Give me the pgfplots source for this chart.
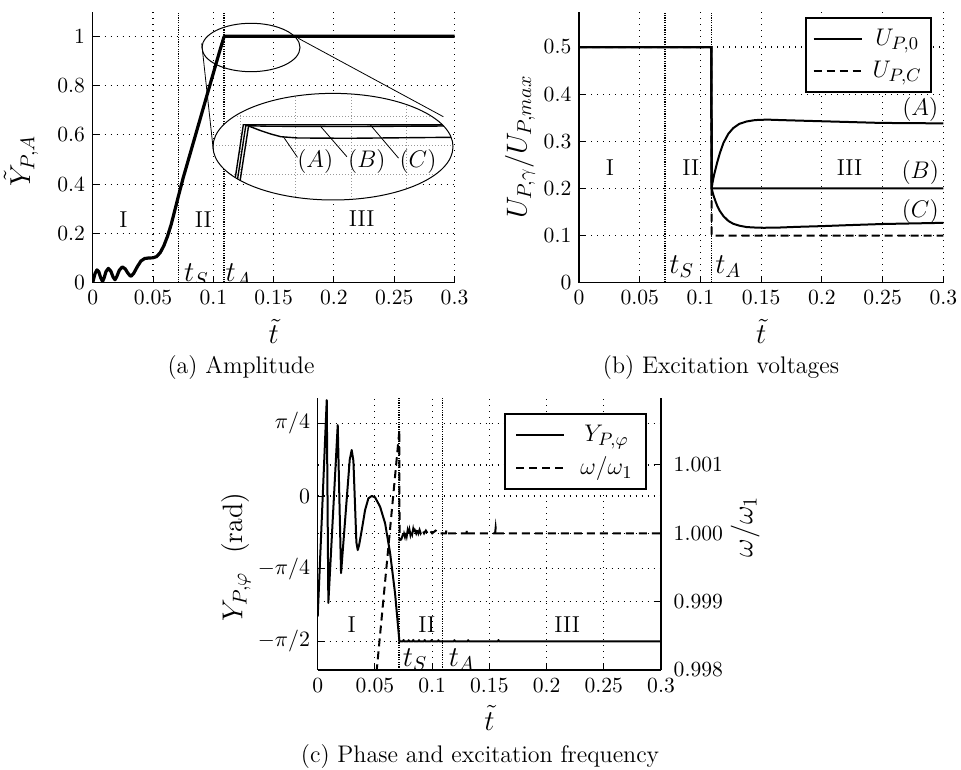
\documentclass[border=0pt,11pt]{standalone}
\usepackage{pgfplots}
\pgfplotsset{compat=1.18}

\newcommand{\tickfont}{\fontsize{10.8}{12}\selectfont}
\newcommand{\labfont}{\fontsize{14}{16}\selectfont}
\newcommand{\legfont}{\fontsize{12.5}{14}\selectfont}
\newcommand{\txtfont}{\fontsize{11.5}{13}\selectfont}

\pgfplotsset{
  panel/.style={
    scale only axis, anchor=south west,
    xmin=0, xmax=0.3, enlargelimits=false,
    xtick={0,0.05,0.1,0.15,0.2,0.25,0.3},
    xticklabels={0,0.05,0.1,0.15,0.2,0.25,0.3},
    xlabel={$\tilde{t}$},
    axis x line*=bottom, axis y line*=left,
    axis line style={-, line width=0.7pt},
    tick align=inside, major tick length=3pt,
    tick style={black, line width=0.5pt},
    tick label style={font=\tickfont},
    label style={font=\labfont, inner sep=0pt},
    xmajorgrids, ymajorgrids,
    grid style={black, line width=0.55pt, dash pattern=on 0.55pt off 2.45pt},
    legend image code/.code={\draw[##1] (0pt,0pt) -- (24pt,0pt);},
  },
  boundary/.style={black, line width=0.8pt, dash pattern=on 0.6pt off 0.6pt},
  curve/.style={black, line width=1pt, solid},
  dcurve/.style={black, line width=1pt, dash pattern=on 4pt off 2.5pt},
  boxlegend/.style={draw=black, line width=1pt, inner xsep=5pt,
    inner ysep=3.5pt, row sep=2pt, column sep=6pt, font=\legfont,
    nodes={inner xsep=1.5pt}, cells={anchor=center}},
}

\begin{document}
\begin{tikzpicture}
\path[use as bounding box] (0,0) rectangle (480.5pt,384.5pt);

% ---------------- (a) amplitude ----------------
\begin{axis}[panel, at={(46.35pt,243.15pt)}, width=180.9pt, height=135.5pt,
  ymin=0, ymax=1.1, ytick={0,0.2,0.4,0.6,0.8,1},
  yticklabels={0,0.2,0.4,0.6,0.8,1}, ylabel={$\tilde{Y}_{P,A}$},
  xlabel style={at={(axis description cs:0.5,-0.181)}, anchor=center},
  ylabel style={at={(axis description cs:-0.198,0.45)}, anchor=center}]
\addplot[boundary] coordinates {(0.071,0) (0.071,1.1)};
\addplot[boundary] coordinates {(0.109,0) (0.109,1.1)};
\addplot[black, line width=1.6pt, line join=round] table {
t v
0 0
0.001 0.020
0.002 0.038
0.0035 0.052
0.005 0.045
0.0065 0.022
0.0082 0.005
0.0095 0.020
0.011 0.045
0.013 0.058
0.015 0.047
0.017 0.022
0.0185 0.012
0.020 0.025
0.022 0.050
0.0245 0.064
0.027 0.056
0.029 0.040
0.031 0.028
0.032 0.027
0.034 0.038
0.037 0.065
0.040 0.088
0.043 0.098
0.046 0.100
0.050 0.101
0.053 0.106
0.056 0.122
0.059 0.150
0.062 0.188
0.065 0.235
0.068 0.292
0.071 0.350
0.075 0.425
0.080 0.510
0.085 0.595
0.090 0.680
0.095 0.765
0.100 0.850
0.105 0.935
0.109 1.000
0.300 1.000
};
\node[font=\txtfont] at (axis cs:0.0255,0.254) {I};
\node[font=\txtfont] at (axis cs:0.0918,0.254) {II};
\node[font=\txtfont] at (axis cs:0.223,0.261) {III};
\node[font=\labfont] at (axis cs:0.086,0.03) {$t_S$};
\node[font=\labfont] at (axis cs:0.121,0.03) {$t_A$};
\end{axis}

% close-up of the transition into phase III
\fill[white] (166.5pt,311.15pt) ellipse [x radius=60pt, y radius=26.65pt];
\begin{scope}
\clip (166.5pt,311.15pt) ellipse [x radius=60pt, y radius=26.65pt];
\begin{axis}[at={(106.5pt,284.5pt)}, anchor=south west, scale only axis,
  width=120pt, height=53.3pt,
  xmin=0.1051, xmax=0.1483, ymin=0.97128, ymax=1.00803,
  xtick={0.11,0.12,0.13,0.14}, ytick={0.98,0.99,1.0},
  xticklabels={}, yticklabels={}, major tick length=0pt,
  axis line style={draw=none}, tick style={draw=none},
  xmajorgrids, ymajorgrids,
  grid style={gray!80, line width=0.5pt, dash pattern=on 0.5pt off 1pt}]
\addplot[black, line width=0.7pt] coordinates {
(0.10848,0.9710) (0.11056,0.99720) (0.1150,0.99722) (0.1300,0.99722) (0.1483,0.99715)};
\addplot[black, line width=0.7pt] coordinates {
(0.10892,0.9710) (0.11100,0.99690) (0.1150,0.99670) (0.1300,0.99660) (0.1483,0.99680)};
\addplot[black, line width=0.7pt] coordinates {
(0.10942,0.9710) (0.11150,0.99680) (0.1137,0.99517) (0.1155,0.99403)
(0.1173,0.99310) (0.1203,0.99266) (0.1293,0.99255) (0.1485,0.99290)};
\draw[line width=0.4pt] (axis cs:0.1203,0.9860) -- (axis cs:0.1178,0.9930);
\draw[line width=0.4pt] (axis cs:0.1292,0.9862) -- (axis cs:0.1244,0.9968);
\draw[line width=0.4pt] (axis cs:0.1385,0.9857) -- (axis cs:0.1334,0.9972);
\node[font=\txtfont] at (axis cs:0.1235,0.98448) {$(A)$};
\node[font=\txtfont] at (axis cs:0.1328,0.98448) {$(B)$};
\node[font=\txtfont] at (axis cs:0.1420,0.98448) {$(C)$};
\end{axis}
\end{scope}
\draw[line width=0.5pt] (166.5pt,311.15pt) ellipse [x radius=60pt, y radius=26.65pt];
\draw[line width=0.5pt] (125.5pt,360.75pt) ellipse [x radius=24.5pt, y radius=12.1pt];
\draw[line width=0.4pt] (100.85pt,362.85pt) -- (106.65pt,309.5pt);
\draw[line width=0.4pt] (149.15pt,365.35pt) -- (221.65pt,326.15pt);

% ---------------- (b) excitation voltages ----------------
\begin{axis}[panel, at={(289.5pt,243.15pt)}, width=182.15pt, height=135.5pt,
  ymin=0, ymax=0.575, ytick={0,0.1,0.2,0.3,0.4,0.5},
  yticklabels={0,0.1,0.2,0.3,0.4,0.5}, ylabel={$U_{P,\gamma}/U_{P,max}$},
  xlabel style={at={(axis description cs:0.5,-0.181)}, anchor=center},
  ylabel style={at={(axis description cs:-0.162,0.5)}, anchor=center},
  legend style={boxlegend, at={(0.968,0.979)}, anchor=north east,
    inner xsep=3.5pt, column sep=4pt, nodes={inner xsep=1pt}}]
\addlegendimage{curve}
\addlegendentry{$U_{P,0}$}
\addlegendimage{dcurve}
\addlegendentry{$U_{P,C}$}
\addplot[boundary, forget plot] coordinates {(0.071,0) (0.071,0.575)};
\addplot[boundary, forget plot] coordinates {(0.109,0) (0.109,0.575)};
% case (A)
\addplot[curve, forget plot] table {
t u
0 0.5
0.109 0.5
0.1092 0.200
0.1100 0.213
0.1110 0.226
0.1125 0.242
0.1140 0.257
0.1160 0.275
0.1190 0.297
0.1230 0.316
0.1270 0.328
0.1320 0.337
0.1380 0.342
0.1450 0.345
0.1550 0.346
0.1660 0.345
0.1930 0.343
0.2210 0.341
0.2480 0.339
0.3000 0.338
};
% case (B)
\addplot[curve, forget plot] table {
t u
0 0.5
0.109 0.5
0.1092 0.2
0.3 0.2
};
% case (C)
\addplot[curve, forget plot] table {
t u
0 0.5
0.109 0.5
0.1092 0.200
0.1100 0.192
0.1110 0.183
0.1125 0.172
0.1140 0.162
0.1160 0.152
0.1190 0.141
0.1230 0.131
0.1270 0.125
0.1320 0.121
0.1380 0.118
0.1450 0.117
0.1520 0.1165
0.1650 0.117
0.1800 0.1185
0.2000 0.120
0.2210 0.122
0.2500 0.1245
0.3000 0.127
};
% common control voltage
\addplot[dcurve, forget plot] table {
t u
0 0.5
0.109 0.5
0.1092 0.1
0.3 0.1
};
\node[font=\txtfont] at (axis cs:0.0255,0.244) {I};
\node[font=\txtfont] at (axis cs:0.092,0.244) {II};
\node[font=\txtfont] at (axis cs:0.2228,0.244) {III};
\node[font=\labfont] at (axis cs:0.0846,0.034) {$t_S$};
\node[font=\labfont] at (axis cs:0.123,0.034) {$t_A$};
\node[font=\txtfont] at (axis cs:0.281,0.367) {$(A)$};
\node[font=\txtfont] at (axis cs:0.281,0.233) {$(B)$};
\node[font=\txtfont] at (axis cs:0.281,0.152) {$(C)$};
\end{axis}

% ---------------- (c) phase and excitation frequency ----------------
\begin{axis}[panel, at={(158.85pt,49.5pt)}, width=171.65pt, height=136pt,
  ymin=-1.880, ymax=1.059, ytick={-1.5708,-0.7854,0,0.7854},
  yticklabels={$-\pi/2$,$-\pi/4$,$0$,$\pi/4$},
  ylabel={$Y_{P,\varphi}$ \ (rad)},
  xlabel style={at={(axis description cs:0.5,-0.176)}, anchor=center},
  ylabel style={at={(axis description cs:-0.238,0.415)}, anchor=center}]
\addplot[boundary] coordinates {(0.071,-1.880) (0.071,1.059)};
\addplot[boundary] coordinates {(0.109,-1.880) (0.109,1.059)};
\addplot[curve, line join=round] table {
t y
0 -1.304
0.0079 1.037
0.0093 -1.155
0.0175 0.767
0.0204 -0.833
0.0280 0.393
0.0297 0.497
0.0312 0.380
0.0338 -0.500
0.0350 -0.584
0.0362 -0.530
0.0385 -0.368
0.0414 -0.152
0.0443 -0.025
0.0472 0
0.0501 -0.014
0.0545 -0.115
0.0589 -0.295
0.0633 -0.620
0.0676 -1.052
0.0714 -1.5708
0.0745 -1.5708
0.0750 -1.556
0.0755 -1.5708
0.0790 -1.5708
0.0795 -1.558
0.0800 -1.5708
0.0830 -1.5708
0.0835 -1.555
0.0840 -1.5708
0.0880 -1.5708
0.0885 -1.557
0.0890 -1.5708
0.0930 -1.5708
0.0935 -1.556
0.0940 -1.5708
0.0990 -1.5708
0.0995 -1.557
0.1000 -1.5708
0.1050 -1.5708
0.1055 -1.558
0.1060 -1.5708
0.1190 -1.5708
0.1195 -1.558
0.1200 -1.5708
0.1310 -1.5708
0.1315 -1.558
0.1320 -1.5708
0.1575 -1.5708
0.1580 -1.556
0.1585 -1.5708
0.3000 -1.5708
};
\node[font=\txtfont] at (axis cs:0.0297,-1.392) {I};
\node[font=\txtfont] at (axis cs:0.0954,-1.392) {II};
\node[font=\txtfont] at (axis cs:0.218,-1.392) {III};
\node[font=\labfont] at (axis cs:0.0851,-1.77) {$t_S$};
\node[font=\labfont] at (axis cs:0.126,-1.77) {$t_A$};
\end{axis}
\begin{axis}[panel, at={(158.85pt,49.5pt)}, width=171.65pt, height=136pt,
  axis x line=none, axis y line*=right, xmajorgrids=false,
  xlabel={}, ymin=0.998, ymax=1.00198,
  ytick={0.998,0.999,1.000,1.001},
  yticklabels={0.998,0.999,1.000,1.001},
  yticklabel style={xshift=2.5pt},
  ylabel={$\omega/\omega_1$},
  ylabel style={at={(axis description cs:1.245,0.526)}, anchor=center},
  legend style={boxlegend, at={(0.958,0.944)}, anchor=north east}]
\addlegendimage{curve}
\addlegendentry{$Y_{P,\varphi}$}
\addplot[dcurve] table {
t w
0.0450 0.99683
0.0714 1.00151
0.0715 0.99990
0.0730 0.99991
0.0740 0.99996
0.0748 0.99993
0.0755 0.99999
0.0762 0.99995
0.0770 1.00002
0.0778 0.99996
0.0786 1.00004
0.0794 0.99998
0.0802 1.00005
0.0810 0.99998
0.0818 1.00004
0.0826 0.99999
0.0834 1.00006
0.0842 0.99999
0.0850 1.00004
0.0860 1.00000
0.0870 1.00006
0.0880 1.00000
0.0890 1.00005
0.0900 1.00000
0.0915 1.00005
0.0930 1.00000
0.0945 1.00004
0.0960 1.00000
0.0980 1.00004
0.1000 1.00000
0.1030 1.00004
0.1060 1.00000
0.1120 1.00000
0.1125 1.00005
0.1130 1.00000
0.1300 1.00000
0.1305 1.00006
0.1310 1.00000
0.1550 1.00000
0.1555 1.00008
0.1560 1.00000
0.3000 1.00000
};
\addlegendentry{$\omega/\omega_1$}
\end{axis}

% sub-figure captions
\node[anchor=base, font=\large] at (120.5pt,197.5pt) {(a) Amplitude};
\node[anchor=base, font=\large] at (360.5pt,197.5pt) {(b) Excitation voltages};
\node[anchor=base, font=\large] at (240pt,3.5pt) {(c) Phase and excitation frequency};
\end{tikzpicture}
\end{document}
